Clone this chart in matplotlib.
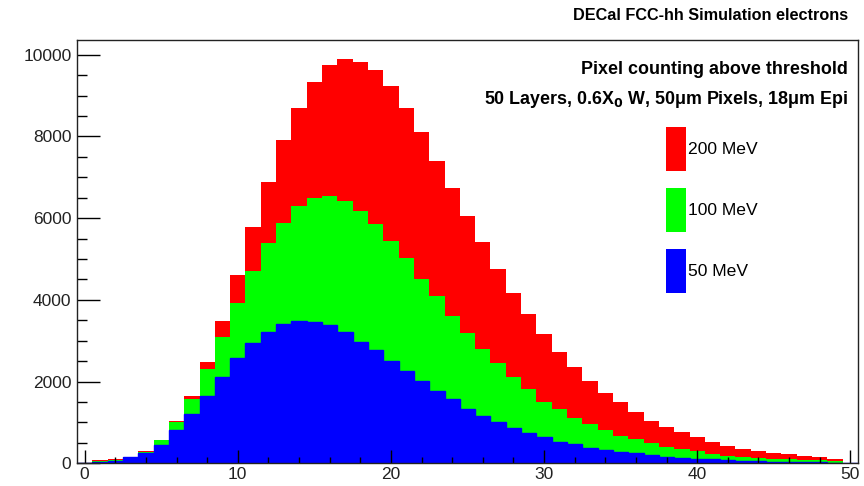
import numpy as np
import matplotlib
matplotlib.use('Agg')
import matplotlib.pyplot as plt
from matplotlib.patches import Patch

plt.rcParams['font.family'] = ['Liberation Sans', 'DejaVu Sans']

# pixel counts per bin (bins centred on 0..50)
pixels = np.arange(0, 51)
e200 = [0, 90, 100, 150, 290, 580, 1030, 1657, 2490, 3494, 4612, 5780, 6898, 7918, 8700,
        9340, 9750, 9900, 9820, 9616, 9224, 8694, 8098, 7412, 6735, 6065, 5412, 4767, 4163,
        3650, 3166, 2734, 2366, 2016, 1730, 1490, 1245, 1040, 877, 759, 636, 518, 428, 351,
        310, 261, 220, 180, 150, 100, 0]
e100 = [0, 60, 90, 148, 284, 570, 1020, 1567, 2302, 3102, 3935, 4702, 5388, 5894, 6302,
        6490, 6547, 6424, 6180, 5861, 5453, 5020, 4522, 4098, 3616, 3200, 2808, 2449, 2122,
        1812, 1510, 1322, 1118, 963, 808, 677, 600, 490, 395, 355, 294, 228, 190, 160, 128,
        112, 104, 88, 72, 57, 0]
e50 = [0, 20, 45, 147, 255, 460, 815, 1208, 1657, 2122, 2571, 2939, 3216, 3420, 3490,
       3465, 3388, 3216, 2980, 2776, 2506, 2261, 2016, 1771, 1576, 1331, 1167, 1004, 857,
       745, 653, 530, 465, 383, 326, 286, 240, 196, 163, 135, 114, 98, 82, 65, 52, 41, 33,
       30, 25, 16, 0]
labels = ['200 MeV', '100 MeV', '50 MeV']
colors = ['#ff0000', '#00ff00', '#0000ff']

edges = np.append(pixels - 0.5, pixels[-1] + 0.5)

fig = plt.figure(figsize=(8.64, 4.86), dpi=100)
ax = fig.add_axes([77/864, 1 - 463.3/486, (858 - 77)/864, (463.3 - 40)/486])

for vals, c in zip([e200, e100, e50], colors):
    ax.stairs(vals, edges, fill=True, color=c, lw=0)
ax.stairs(e50, edges, color='#0000ff', lw=1)

ax.set_xlim(-0.5, 50.5)
ax.set_ylim(0, 10362)
ax.set_xticks(np.arange(0, 51, 10))
ax.set_xticks(np.arange(0, 51, 2), minor=True)
ax.set_yticks(np.arange(0, 10001, 2000))
ax.set_yticks(np.arange(0, 10001, 500), minor=True)
ax.tick_params(axis='both', which='both', direction='in', top=False, right=False,
               colors='black', labelcolor='#222222')
ax.tick_params(axis='y', which='major', length=16.5, width=1, labelsize=12.5, pad=4)
ax.tick_params(axis='y', which='minor', length=7.5, width=1)
ax.tick_params(axis='x', which='major', length=9.5, width=1, labelsize=12.5, pad=3)
ax.tick_params(axis='x', which='minor', length=4.5, width=1)
for s in ax.spines.values():
    s.set_linewidth(1)
    s.set_color('#222222')

fig.text(848/864, 1 - 15/486, 'DECal FCC-hh Simulation electrons', ha='right', va='center',
         fontsize=11.7, fontweight='bold')
fig.text(848/864, 1 - 70/486, 'Pixel counting above threshold', ha='right', va='center',
         fontsize=12.9, fontweight='bold')
fig.text(848/864, 1 - 99/486, r'50 Layers, 0.6X$_{\mathbf{0}}$ W, 50μm Pixels, 18μm Epi',
         ha='right', va='center', fontsize=12.9, fontweight='bold')

handles = [Patch(facecolor=c, edgecolor=c, lw=0) for c in colors]
fig.legend(handles, labels, loc='upper left', bbox_to_anchor=(666/864, 1 - 127/486),
           frameon=False, fontsize=12.6, handlelength=1.12, handleheight=3.45,
           handletextpad=0.12, labelspacing=1.0, borderpad=0, borderaxespad=0)

fig.savefig('out.png', dpi=100)
